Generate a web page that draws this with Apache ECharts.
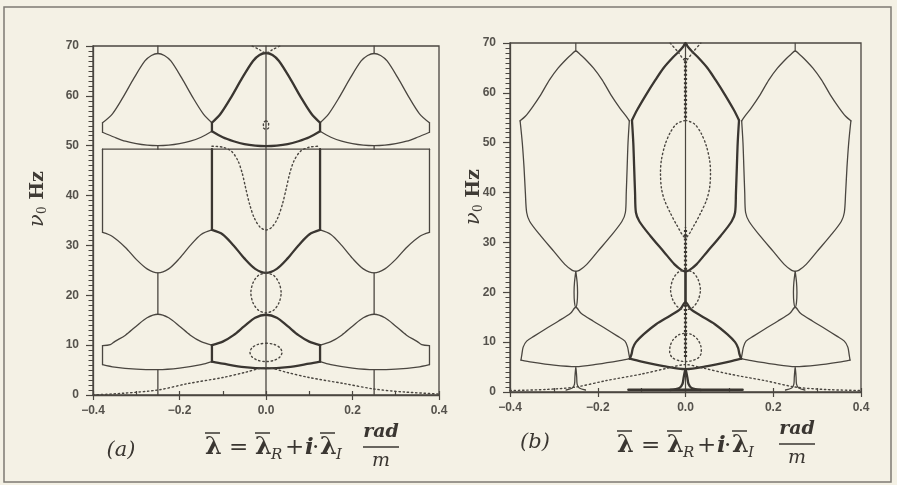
<!DOCTYPE html>
<html>
<head>
<meta charset="utf-8">
<script src="https://cdn.jsdelivr.net/npm/echarts@6/dist/echarts.min.js"></script>
<style>
  html, body { margin: 0; padding: 0; background: #f4f1e5; }
  #chart { width: 897px; height: 485px; }
</style>
</head>
<body>
<div id="chart"></div>
<script>
// ---------- axes ----------
const xTicks = [-0.4, -0.2, 0.0, 0.2, 0.4];
const yTicks = [0, 10, 20, 30, 40, 50, 60, 70];

// ---------- panel (a): branch curves [lambda_R, nu0] ----------
const aBellUpL = [[-0.378,54.6],[-0.355,56.4],[-0.33,59.8],[-0.305,63.6],[-0.28,67.0],[-0.265,68.1],[-0.25,68.5],[-0.235,68.1],[-0.22,67.0],[-0.195,63.6],[-0.17,59.8],[-0.145,56.4],[-0.125,54.6]];
const aBellUpC = [[-0.125,54.6],[-0.105,56.4],[-0.08,59.8],[-0.055,63.6],[-0.03,67.0],[-0.015,68.2],[0,68.6],[0.015,68.2],[0.03,67.0],[0.055,63.6],[0.08,59.8],[0.105,56.4],[0.125,54.6]];
const aBellUpR = [[0.125,54.6],[0.145,56.4],[0.17,59.8],[0.195,63.6],[0.22,67.0],[0.235,68.1],[0.25,68.5],[0.265,68.1],[0.28,67.0],[0.305,63.6],[0.33,59.8],[0.355,56.4],[0.378,54.6]];
const aBellLoL = [[-0.378,52.7],[-0.35,51.7],[-0.325,50.9],[-0.3,50.4],[-0.275,50.1],[-0.25,50.0],[-0.225,50.1],[-0.2,50.4],[-0.175,50.9],[-0.15,51.7],[-0.125,52.9]];
const aBellLoC = [[-0.125,52.9],[-0.1,51.7],[-0.075,50.9],[-0.05,50.3],[-0.025,50.0],[0,49.9],[0.025,50.0],[0.05,50.3],[0.075,50.9],[0.1,51.7],[0.125,52.9]];
const aBellLoR = [[0.125,52.9],[0.15,51.7],[0.175,50.9],[0.2,50.4],[0.225,50.1],[0.25,50.0],[0.275,50.1],[0.3,50.4],[0.325,50.9],[0.35,51.7],[0.378,52.7]];
const aW1L = [[-0.378,32.6],[-0.355,31.8],[-0.325,29.6],[-0.3,27.2],[-0.275,25.3],[-0.25,24.5],[-0.225,25.3],[-0.2,27.4],[-0.175,30.0],[-0.15,32.2],[-0.125,33.1]];
const aW1C = [[-0.125,33.1],[-0.1,32.2],[-0.075,30.0],[-0.05,27.4],[-0.025,25.3],[0,24.5],[0.025,25.3],[0.05,27.4],[0.075,30.0],[0.1,32.2],[0.125,33.1]];
const aW1R = [[0.125,33.1],[0.15,32.2],[0.175,30.0],[0.2,27.4],[0.225,25.3],[0.25,24.5],[0.275,25.3],[0.3,27.2],[0.325,29.6],[0.355,31.8],[0.378,32.6]];
const aW2L = [[-0.378,9.9],[-0.36,10.1],[-0.35,10.7],[-0.325,12.0],[-0.3,13.8],[-0.275,15.5],[-0.25,16.2],[-0.225,15.5],[-0.2,13.8],[-0.175,12.0],[-0.15,10.7],[-0.125,10.0]];
const aW2C = [[-0.125,10.0],[-0.1,10.7],[-0.075,12.0],[-0.05,13.8],[-0.025,15.5],[0,16.1],[0.025,15.5],[0.05,13.8],[0.075,12.0],[0.1,10.7],[0.125,10.0]];
const aW2R = [[0.125,10.0],[0.15,10.7],[0.175,12.0],[0.2,13.8],[0.225,15.5],[0.25,16.2],[0.275,15.5],[0.3,13.8],[0.325,12.0],[0.35,10.7],[0.36,10.1],[0.378,9.9]];
const aW3L = [[-0.378,6.1],[-0.35,5.6],[-0.3,5.2],[-0.25,5.1],[-0.2,5.4],[-0.15,6.1],[-0.125,6.7]];
const aW3C = [[-0.125,6.7],[-0.1,6.3],[-0.05,5.6],[0,5.35],[0.05,5.6],[0.1,6.3],[0.125,6.7]];
const aW3R = [[0.125,6.7],[0.15,6.1],[0.2,5.4],[0.25,5.1],[0.3,5.2],[0.35,5.6],[0.378,6.1]];
// straight pieces: thin and bold
const aSegThin = [
  [[-0.378,52.7],[-0.378,54.6]], [[0.378,52.7],[0.378,54.6]],
  [[-0.25,68.5],[-0.25,70]], [[0.25,68.5],[0.25,70]],
  [[-0.25,50.0],[-0.25,49.3]], [[0.25,50.0],[0.25,49.3]],
  [[-0.378,49.3],[0.378,49.3]],
  [[-0.378,49.3],[-0.378,32.6]], [[0.378,49.3],[0.378,32.6]],
  [[-0.25,24.5],[-0.25,16.2]], [[0.25,24.5],[0.25,16.2]],
  [[-0.378,9.9],[-0.378,6.1]], [[0.378,9.9],[0.378,6.1]],
  [[-0.25,5.1],[-0.25,0]], [[0.25,5.1],[0.25,0]],
  [[0,0],[0,70]]
];
const aSegBold = [
  [[-0.125,52.9],[-0.125,54.6]], [[0.125,52.9],[0.125,54.6]],
  [[-0.125,49.3],[-0.125,33.1]], [[0.125,49.3],[0.125,33.1]],
  [[-0.125,10.0],[-0.125,6.7]], [[0.125,10.0],[0.125,6.7]]
];
// imaginary parts (dotted)
const aDotTri = [[-0.4,0.0],[-0.33,0.35],[-0.25,1.0],[-0.18,2.3],[-0.1,3.5],[-0.05,4.5],[0,5.5],[0.05,4.5],[0.1,3.5],[0.18,2.3],[0.25,1.2],[0.32,0.6],[0.4,0.2]];
const aDotEll1 = [[0,10.4],[0.0185,10.15],[0.032,9.5],[0.037,8.55],[0.032,7.6],[0.0185,6.95],[0,6.7],[-0.0185,6.95],[-0.032,7.6],[-0.037,8.55],[-0.032,9.5],[-0.0185,10.15],[0,10.4]];
const aDotEll2 = [[0,24.5],[0.0175,24.0],[0.03,22.5],[0.035,20.5],[0.03,18.5],[0.0175,17.0],[0,16.5],[-0.0175,17.0],[-0.03,18.5],[-0.035,20.5],[-0.03,22.5],[-0.0175,24.0],[0,24.5]];
const aDotU = [[-0.125,49.9],[-0.1,49.7],[-0.08,48.9],[-0.065,47.0],[-0.055,44.5],[-0.047,41.5],[-0.038,38.3],[-0.027,35.5],[-0.014,33.7],[0,33.1],[0.014,33.7],[0.027,35.5],[0.038,38.3],[0.047,41.5],[0.055,44.5],[0.065,47.0],[0.08,48.9],[0.1,49.7],[0.125,49.9]];
const aDotRing = [[0,55.0],[0.006,54.6],[0.006,53.6],[0,53.3],[-0.006,53.6],[-0.006,54.6],[0,55.0]];
const aDotV = [[-0.032,70],[-0.016,69.3],[0,68.6],[0.016,69.3],[0.032,70]];

// ---------- panel (b) ----------
const bUpL = [[-0.377,54.4],[-0.365,55.3],[-0.35,57.0],[-0.33,59.6],[-0.31,62.6],[-0.29,65.0],[-0.27,66.9],[-0.26,67.7],[-0.25,68.4],[-0.24,67.7],[-0.23,66.9],[-0.21,65.0],[-0.19,62.6],[-0.17,59.6],[-0.15,57.0],[-0.135,55.3],[-0.128,54.4]];
const bUpC = [[-0.122,54.5],[-0.11,56.6],[-0.09,59.6],[-0.07,62.4],[-0.05,65.0],[-0.03,67.0],[-0.015,68.3],[-0.005,69.3],[0,70],[0.005,69.3],[0.015,68.3],[0.03,67.0],[0.05,65.0],[0.07,62.4],[0.09,59.6],[0.11,56.6],[0.122,54.5]];
const bUpR = [[0.128,54.4],[0.135,55.3],[0.15,57.0],[0.17,59.6],[0.19,62.6],[0.21,65.0],[0.23,66.9],[0.24,67.7],[0.25,68.4],[0.26,67.7],[0.27,66.9],[0.29,65.0],[0.31,62.6],[0.33,59.6],[0.35,57.0],[0.365,55.3],[0.377,54.4]];
const bSideLo = [[-0.377,54.4],[-0.372,50],[-0.368,45],[-0.365,40],[-0.362,36],[-0.355,34.2],[-0.33,31.3],[-0.3,28.2],[-0.275,25.6],[-0.258,24.4],[-0.25,24.2]];
const bSideLi = [[-0.128,54.4],[-0.131,50],[-0.133,45],[-0.135,40],[-0.137,36],[-0.145,34.2],[-0.17,31.3],[-0.2,28.2],[-0.225,25.6],[-0.242,24.4],[-0.25,24.2]];
const bSideCl = [[-0.122,54.5],[-0.119,50],[-0.117,45],[-0.115,40],[-0.113,36],[-0.105,34.2],[-0.08,31.3],[-0.05,28.2],[-0.025,25.6],[-0.008,24.4],[0,24.2]];
const bSideCr = [[0.122,54.5],[0.119,50],[0.117,45],[0.115,40],[0.113,36],[0.105,34.2],[0.08,31.3],[0.05,28.2],[0.025,25.6],[0.008,24.4],[0,24.2]];
const bSideRi = [[0.128,54.4],[0.131,50],[0.133,45],[0.135,40],[0.137,36],[0.145,34.2],[0.17,31.3],[0.2,28.2],[0.225,25.6],[0.242,24.4],[0.25,24.2]];
const bSideRo = [[0.377,54.4],[0.372,50],[0.368,45],[0.365,40],[0.362,36],[0.355,34.2],[0.33,31.3],[0.3,28.2],[0.275,25.6],[0.258,24.4],[0.25,24.2]];
const bNeckL = [[-0.25,24.2],[-0.253,22],[-0.254,20],[-0.253,18],[-0.25,17.0],[-0.247,18],[-0.246,20],[-0.247,22],[-0.25,24.2]];
const bNeckR = [[0.25,24.2],[0.253,22],[0.254,20],[0.253,18],[0.25,17.0],[0.247,18],[0.246,20],[0.247,22],[0.25,24.2]];
const bTentL = [[-0.375,6.4],[-0.373,7.5],[-0.37,9.0],[-0.362,10.2],[-0.345,11.2],[-0.32,12.6],[-0.29,14.2],[-0.262,15.8],[-0.25,17.0],[-0.238,15.8],[-0.21,14.2],[-0.18,12.6],[-0.155,11.2],[-0.138,10.2],[-0.132,9.0],[-0.129,7.6],[-0.127,6.7]];
const bTentC = [[-0.127,6.7],[-0.123,7.6],[-0.12,8.8],[-0.113,10.0],[-0.095,11.6],[-0.067,13.6],[-0.035,15.3],[-0.012,16.6],[0,18.0],[0.012,16.6],[0.035,15.3],[0.067,13.6],[0.095,11.6],[0.113,10.0],[0.12,8.8],[0.123,7.6],[0.127,6.7]];
const bTentR = [[0.127,6.7],[0.129,7.6],[0.132,9.0],[0.138,10.2],[0.155,11.2],[0.18,12.6],[0.21,14.2],[0.238,15.8],[0.25,17.0],[0.262,15.8],[0.29,14.2],[0.32,12.6],[0.345,11.2],[0.362,10.2],[0.37,9.0],[0.373,7.5],[0.375,6.4]];
const bBaseL = [[-0.375,6.4],[-0.35,6.0],[-0.3,5.4],[-0.25,5.1],[-0.2,5.6],[-0.15,6.3],[-0.127,6.7]];
const bBaseC = [[-0.127,6.7],[-0.1,6.1],[-0.05,5.2],[0,4.6],[0.05,5.2],[0.1,6.1],[0.127,6.7]];
const bBaseR = [[0.127,6.7],[0.15,6.3],[0.2,5.6],[0.25,5.1],[0.3,5.4],[0.35,6.0],[0.375,6.4]];
const bFootL = [[-0.272,0.4],[-0.258,0.8],[-0.253,1.6],[-0.252,3.0],[-0.25,5.1],[-0.248,3.0],[-0.247,1.6],[-0.242,0.8],[-0.228,0.4]];
const bFootR = [[0.228,0.4],[0.242,0.8],[0.247,1.6],[0.248,3.0],[0.25,5.1],[0.252,3.0],[0.253,1.6],[0.258,0.8],[0.272,0.4]];
const bFootC = [[-0.035,0.4],[-0.014,0.8],[-0.007,1.6],[-0.004,3.0],[0,4.6],[0.004,3.0],[0.007,1.6],[0.014,0.8],[0.035,0.4]];
const bSegThin = [
  [[-0.25,68.4],[-0.25,70]], [[0.25,68.4],[0.25,70]],
  [[0,0],[0,70]]
];
const bSegBold = [
  [[0,24.2],[0,18.0]],
  [[-0.13,0.45],[0.13,0.45]]
];
const bDotTri = [[-0.4,0.3],[-0.32,0.5],[-0.25,1.0],[-0.18,2.3],[-0.1,3.6],[-0.04,4.8],[0,5.5],[0.04,4.8],[0.1,3.6],[0.18,2.3],[0.25,1.0],[0.32,0.5],[0.4,0.3]];
const bDotBig = [[0,54.5],[0.02,53.8],[0.035,52.0],[0.047,49.5],[0.055,46.5],[0.057,44.0],[0.055,41.0],[0.048,38.5],[0.035,36.0],[0.02,33.5],[0,31.0],[-0.02,33.5],[-0.035,36.0],[-0.048,38.5],[-0.055,41.0],[-0.057,44.0],[-0.055,46.5],[-0.047,49.5],[-0.035,52.0],[-0.02,53.8],[0,54.5]];
const bDotEll2 = [[0,24.5],[0.017,24.0],[0.029,22.5],[0.034,20.5],[0.029,18.5],[0.017,17.0],[0,16.5],[-0.017,17.0],[-0.029,18.5],[-0.034,20.5],[-0.029,22.5],[-0.017,24.0],[0,24.5]];
const bDotEll1 = [[0,11.8],[0.015,11.5],[0.028,10.5],[0.035,9.2],[0.036,8.0],[0.03,6.9],[0.015,6.3],[0,6.1],[-0.015,6.3],[-0.03,6.9],[-0.036,8.0],[-0.035,9.2],[-0.028,10.5],[-0.015,11.5],[0,11.8]];
const bDotV = [[-0.035,70],[-0.017,68.2],[0,66.5],[0.017,68.2],[0.035,70]];
const bBeads = [
  [[0,55],[0,67]],
  [[0,24.5],[0,33]],
  [[0,7],[0,17.5]]
];

// ---------- drawing ----------
const INK = '#4a4640';
const INK_BOLD = '#3a3631';
const series = [];
function curve(data, panel, width, dotted, color) {
  series.push({
    type: 'line', xAxisIndex: panel, yAxisIndex: panel, data: data,
    symbol: 'none', smooth: data.length > 2 ? 0.3 : false, silent: true,
    animation: false,
    lineStyle: { color: color || INK, width: width, type: dotted ? [1.4, 2.8] : 'solid', cap: 'round', join: 'round' }
  });
}
[aBellUpL, aBellUpR, aBellLoL, aBellLoR, aW1L, aW1R, aW2L, aW2R, aW3L, aW3R].forEach(d => curve(d, 0, 1.3));
aSegThin.forEach(d => curve(d, 0, 1.3));
[aBellUpC, aBellLoC, aW1C, aW2C, aW3C].forEach(d => curve(d, 0, 2.3, false, INK_BOLD));
aSegBold.forEach(d => curve(d, 0, 2.3, false, INK_BOLD));
[aDotTri, aDotEll1, aDotEll2, aDotU, aDotRing, aDotV].forEach(d => curve(d, 0, 1.4, true));

[bUpL, bUpR, bSideLo, bSideLi, bSideRi, bSideRo, bNeckL, bNeckR, bTentL, bTentR, bBaseL, bBaseR, bFootL, bFootR].forEach(d => curve(d, 1, 1.3));
bSegThin.forEach(d => curve(d, 1, 1.2));
[bUpC, bSideCl, bSideCr, bTentC, bBaseC, bFootC].forEach(d => curve(d, 1, 2.3, false, INK_BOLD));
bSegBold.forEach(d => curve(d, 1, 2.6, false, INK_BOLD));
[bDotTri, bDotBig, bDotEll2, bDotEll1, bDotV].forEach(d => curve(d, 1, 1.4, true));
bBeads.forEach(d => series.push({
  type: 'line', xAxisIndex: 1, yAxisIndex: 1, data: d, symbol: 'none', silent: true, animation: false,
  lineStyle: { color: INK_BOLD, width: 3.2, type: [2, 2.2] }
}));

const fmt = v => Math.abs(v) < 1e-9 ? '0.0' : (v < 0 ? '−' : '') + Math.abs(v).toFixed(1);
const tickFont = { color: '#55524c', fontFamily: 'Liberation Sans', fontWeight: 'bold', fontSize: 12 };

function xMain(g) {
  return {
    gridIndex: g, type: 'value', position: 'bottom',
    min: xTicks[0], max: xTicks[xTicks.length - 1], interval: xTicks[1] - xTicks[0],
    axisLine: { show: true, onZero: false, lineStyle: { color: INK, width: 1.3 } },
    axisTick: { show: true, length: 5, lineStyle: { color: INK, width: 1.2 } },
    axisLabel: Object.assign({ formatter: fmt, margin: 10 }, tickFont),
    splitLine: { show: false }
  };
}
function xMinor(g) {
  return {
    gridIndex: g, type: 'value', position: 'bottom',
    min: xTicks[0], max: xTicks[xTicks.length - 1], interval: 0.1,
    axisLine: { show: false, onZero: false }, axisLabel: { show: false },
    axisTick: { show: true, inside: true, length: 4, lineStyle: { color: INK, width: 1.2 } },
    splitLine: { show: false }
  };
}
function yMain(g) {
  return {
    gridIndex: g, type: 'value', position: 'left',
    min: yTicks[0], max: yTicks[yTicks.length - 1], interval: yTicks[1] - yTicks[0],
    axisLine: { show: true, onZero: false, lineStyle: { color: INK, width: 1.3 } },
    axisTick: { show: true, length: 7, lineStyle: { color: INK, width: 1.2 } },
    minorTick: { show: true, splitNumber: 10, length: 4.5, lineStyle: { color: INK, width: 1 } },
    axisLabel: Object.assign({ margin: 14 }, tickFont),
    splitLine: { show: false }
  };
}

const serif = '"DejaVu Serif", "Liberation Serif", serif';
const TXT = '#3a3631';
function yName(x, y) {
  return {
    type: 'text', x: x, y: y, rotation: Math.PI / 2,
    style: {
      text: '{v|ν}{s|0}{h| Hz}', textAlign: 'center', textVerticalAlign: 'middle',
      rich: {
        v: { fontFamily: serif, fontStyle: 'italic', fontSize: 21, fill: '#3f3b35' },
        s: { fontFamily: serif, fontSize: 12, fill: '#3f3b35', padding: [10, 0, 0, 0] },
        h: { fontFamily: serif, fontWeight: 'bold', fontSize: 19, fill: '#3f3b35' }
      }
    }
  };
}
// axis-title formula, laid out piece by piece with overlines above each lambda
function formula(L, y) {
  const t = (dx, dy, s, font) => ({ type: 'text', x: L + dx, y: y + dy, style: { text: s, textAlign: 'left', textVerticalAlign: 'middle', font: font, fill: TXT } });
  const bar = (dx) => ({ type: 'line', shape: { x1: L + dx, y1: y - 15, x2: L + dx + 15, y2: y - 15 }, style: { stroke: TXT, lineWidth: 1.5 } });
  const big = 'bold 24px ' + serif, op = '23px ' + serif, sub = 'italic 15px ' + serif;
  return [
    t(0, 0, 'λ', big), bar(0),
    t(24, 0, '=', op),
    t(50, 0, 'λ', big), bar(50),
    t(66, 7, 'R', sub),
    t(80, 0, '+', op),
    t(100, 0, 'i', 'italic bold 23px ' + serif),
    t(107, 0, '·', op),
    t(115, 0, 'λ', big), bar(115),
    t(131, 7, 'I', sub)
  ];
}
function fraction(cx, cy) {
  return [
    { type: 'text', x: cx, y: cy - 15, style: { text: 'rad', textAlign: 'center', textVerticalAlign: 'middle', font: 'italic bold 19px ' + serif, fill: TXT } },
    { type: 'line', shape: { x1: cx - 18, y1: cy, x2: cx + 18, y2: cy }, style: { stroke: TXT, lineWidth: 1.3 } },
    { type: 'text', x: cx, y: cy + 14, style: { text: 'm', textAlign: 'center', textVerticalAlign: 'middle', font: 'italic 19px ' + serif, fill: TXT } }
  ];
}
function panelTag(cx, cy, s) {
  return { type: 'text', x: cx, y: cy, style: { text: s, textAlign: 'center', textVerticalAlign: 'middle', font: 'italic 21px ' + serif, fill: TXT } };
}

const option = {
  backgroundColor: '#f4f1e5',
  animation: false,
  grid: [
    { left: 93, right: 458, top: 46, bottom: 90, show: true, borderColor: INK, borderWidth: 1.3, backgroundColor: 'transparent' },
    { left: 510, right: 36, top: 43, bottom: 93, show: true, borderColor: INK, borderWidth: 1.3, backgroundColor: 'transparent' }
  ],
  xAxis: [xMain(0), xMain(1), xMinor(0), xMinor(1)],
  yAxis: [yMain(0), yMain(1)],
  series: series,
  graphic: [
    { type: 'rect', shape: { x: 4, y: 7, width: 887, height: 475 }, style: { fill: 'none', stroke: '#7d7a73', lineWidth: 1.5 } },
    yName(38, 199),
    yName(474, 197),
    panelTag(121, 451, '(a)'),
    panelTag(535, 443, '(b)')
  ].concat(formula(205, 448), formula(617, 446), fraction(381, 447), fraction(797, 444))
};

echarts.init(document.getElementById('chart'), null, { renderer: 'canvas' }).setOption(option);
</script>
</body>
</html>
